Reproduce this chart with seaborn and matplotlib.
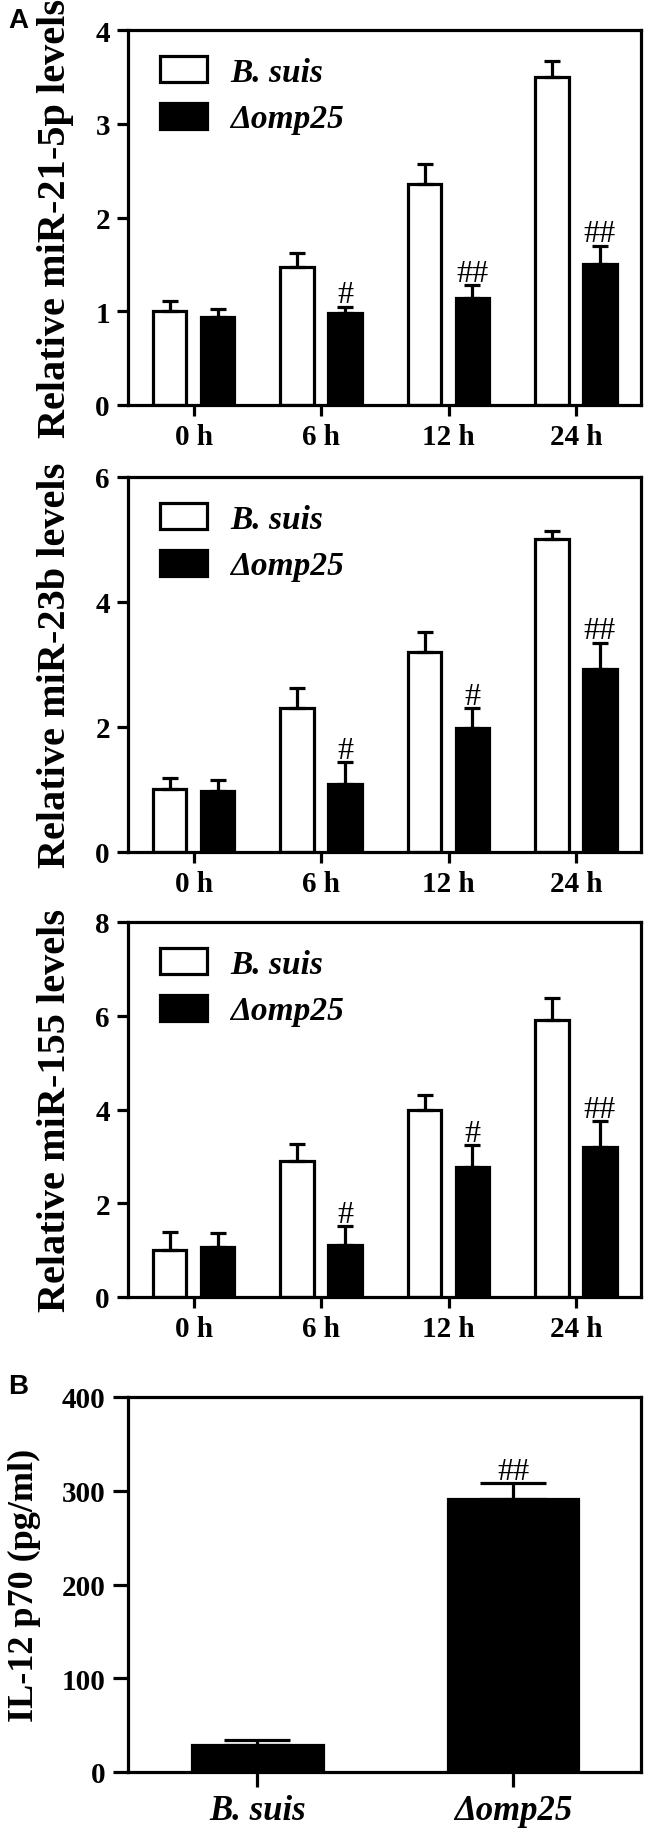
import numpy as np
import pandas as pd
import seaborn as sns
import matplotlib.pyplot as plt
from matplotlib.patches import Patch

# time points and strains
times = ["0 h", "6 h", "12 h", "24 h"]
groups = ["B. suis", "Δomp25"]

# miR-21-5p
mir21_bsuis = [1.00, 1.47, 2.36, 3.50]
mir21_bsuis_err = [0.11, 0.15, 0.21, 0.17]
mir21_omp = [0.94, 0.98, 1.14, 1.50]
mir21_omp_err = [0.08, 0.07, 0.14, 0.20]
mir21_marks = ["", "#", "##", "##"]

# miR-23b
mir23b_bsuis = [1.01, 2.31, 3.20, 5.01]
mir23b_bsuis_err = [0.17, 0.32, 0.32, 0.12]
mir23b_omp = [0.97, 1.09, 1.99, 2.93]
mir23b_omp_err = [0.19, 0.35, 0.31, 0.42]
mir23b_marks = ["", "#", "#", "##"]

# miR-155
mir155_bsuis = [1.01, 2.90, 4.00, 5.90]
mir155_bsuis_err = [0.38, 0.36, 0.32, 0.47]
mir155_omp = [1.06, 1.11, 2.78, 3.21]
mir155_omp_err = [0.31, 0.40, 0.46, 0.54]
mir155_marks = ["", "#", "#", "##"]

# IL-12 p70
il12_vals = [29, 291]
il12_err = [4.7, 17]
il12_marks = ["", "##"]

sns.set_style("ticks")
plt.rcParams['font.family'] = ['Liberation Serif', 'DejaVu Serif']
plt.rcParams['font.weight'] = 'bold'
for k in ['text.color', 'axes.labelcolor', 'xtick.color', 'ytick.color', 'axes.edgecolor']:
    plt.rcParams[k] = 'black'

LW = 2.3
fig = plt.figure(figsize=(6.5, 18.33), dpi=100)

L, W, H = 128/650, 513/650, 375/1833
bottoms = [1 - 406/1833, 1 - 853/1833, 1 - 1298/1833, 1 - 1773/1833]


def style_axis(ax, ymax, step, ylabel, fs=29, tlen=8):
    ax.set_ylim(0, ymax)
    ax.set_yticks(np.arange(0, ymax + step/2, step))
    ax.set_ylabel(ylabel, fontsize=fs, fontweight='bold', labelpad=15)
    ax.set_xlabel("")
    for s in ax.spines.values():
        s.set_linewidth(LW)
        s.set_visible(True)
    ax.tick_params(axis='both', length=tlen, width=LW, labelsize=21, pad=5, direction='out')
    for lab in ax.get_xticklabels() + ax.get_yticklabels():
        lab.set_fontweight('bold')


def time_panel(bottom, bs, bs_err, om, om_err, marks, ymax, step, ylabel):
    ax = fig.add_axes([L, bottom, W, H])
    df = pd.DataFrame({
        "time": times * 2,
        "group": [groups[0]] * 4 + [groups[1]] * 4,
        "value": bs + om,
    })
    sns.barplot(data=df, x="time", y="value", hue="group", order=times,
                hue_order=groups, palette={groups[0]: "white", groups[1]: "black"},
                edgecolor="black", linewidth=LW, width=0.75, gap=0.3,
                errorbar=None, legend=False, ax=ax)
    for cont, vals, errs in zip(ax.containers, [bs, om], [bs_err, om_err]):
        xs = [p.get_x() + p.get_width() / 2 for p in cont.patches]
        ax.errorbar(xs, vals, yerr=[np.zeros(len(vals)), errs], fmt='none',
                    ecolor='black', elinewidth=LW, capsize=6, capthick=LW, zorder=1)
    xs = [p.get_x() + p.get_width() / 2 for p in ax.containers[1].patches]
    for x, v, e, m in zip(xs, om, om_err, marks):
        if m:
            ax.annotate(m, (x, v + e), xytext=(0, 3), textcoords='offset points',
                        ha='center', va='baseline', fontsize=23, fontweight='normal')
    ax.set_xlim(-0.515, 3.51)
    style_axis(ax, ymax, step, ylabel)
    handles = [Patch(facecolor='white', edgecolor='black', linewidth=LW),
               Patch(facecolor='black', edgecolor='black', linewidth=LW)]
    ax.legend(handles, groups, loc='upper left', bbox_to_anchor=(0.062, 0.93),
              frameon=False, borderaxespad=0, borderpad=0,
              handlelength=1.42, handleheight=0.82, handletextpad=0.7, labelspacing=0.45,
              prop={'family': 'Liberation Serif', 'style': 'italic', 'weight': 'bold', 'size': 24})
    return ax


time_panel(bottoms[0], mir21_bsuis, mir21_bsuis_err, mir21_omp, mir21_omp_err,
           mir21_marks, 4, 1, "Relative miR-21-5p levels")
time_panel(bottoms[1], mir23b_bsuis, mir23b_bsuis_err, mir23b_omp, mir23b_omp_err,
           mir23b_marks, 6, 2, "Relative miR-23b levels")
time_panel(bottoms[2], mir155_bsuis, mir155_bsuis_err, mir155_omp, mir155_omp_err,
           mir155_marks, 8, 2, "Relative miR-155 levels")

# panel B
axb = fig.add_axes([L, bottoms[3], W, H])
sns.barplot(x=groups, y=il12_vals, color="black", edgecolor="black",
            linewidth=LW, width=0.51, errorbar=None, ax=axb)
xs = [p.get_x() + p.get_width() / 2 for p in axb.patches]
axb.errorbar(xs, il12_vals, yerr=[np.zeros(2), il12_err], fmt='none',
             ecolor='black', elinewidth=LW, capsize=24, capthick=LW, zorder=1)
for x, v, e, m in zip(xs, il12_vals, il12_err, il12_marks):
    if m:
        axb.annotate(m, (x, v + e), xytext=(0, 3), textcoords='offset points',
                     ha='center', va='baseline', fontsize=23, fontweight='normal')
axb.set_xlim(-0.506, 1.5)
style_axis(axb, 400, 100, "IL-12 p70 (pg/ml)", fs=26, tlen=11)
for lab in axb.get_xticklabels():
    lab.set_fontstyle('italic')
    lab.set_fontsize(25)

fig.text(8/650, 1 - 8/1833, "A", fontsize=20, fontweight='bold',
         family='Liberation Sans', ha='left', va='top')
fig.text(8/650, 1 - 1374/1833, "B", fontsize=20, fontweight='bold',
         family='Liberation Sans', ha='left', va='top')

fig.savefig("out.png", dpi=100)
